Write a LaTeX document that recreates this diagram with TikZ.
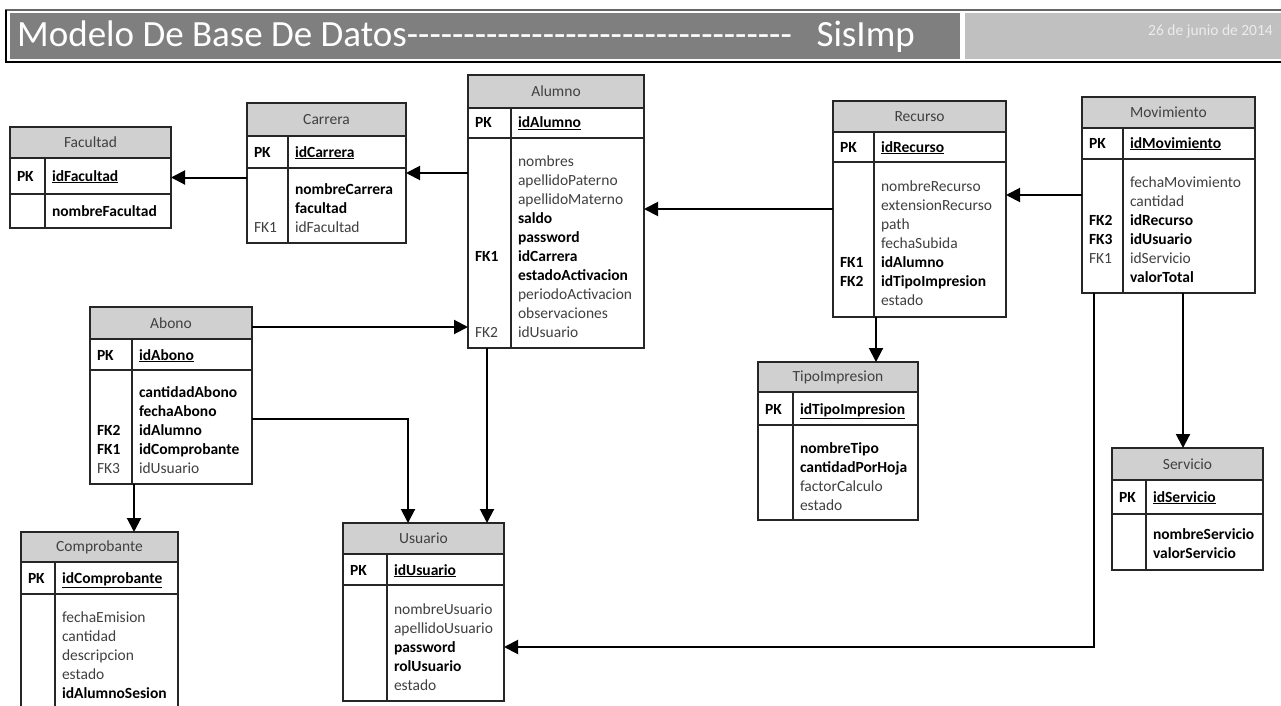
\documentclass[tikz,border=0pt]{standalone}
\usepackage{fontspec}
\setmainfont{Carlito}
\usetikzlibrary{arrows.meta,calc}

\definecolor{bandDark}{RGB}{127,127,127}
\definecolor{bandLight}{RGB}{192,192,192}
\definecolor{headFill}{RGB}{208,208,208}
\definecolor{fieldGray}{RGB}{64,64,64}
\definecolor{dateText}{RGB}{236,236,236}

% bold (mandatory) column
\newcommand\B[1]{{\bfseries\color{black}#1}}
% a run of separate hyphens (no dash ligatures)
\newcommand\hyph{-{}}
\newcommand\hyphten{\hyph\hyph\hyph\hyph\hyph\hyph\hyph\hyph\hyph\hyph}
\newcommand\hyphrun{\hyphten\hyphten\hyphten\hyph\hyph\hyph\hyph}

% #1 name, #2 left, #3 top, #4 right, #5 bottom, #6 divider x, #7 title rule y, #8 key rule y, #9 title
\newcommand\dbtable[9]{%
  \fill[headFill] (#2,#3) rectangle (#4,#7);
  \draw[rule] (#2,#7) -- (#4,#7) (#2,#8) -- (#4,#8) (#6,#7) -- (#6,#5);
  \node[tablebox, anchor=north west, minimum width={#4-#2}, minimum height={#5-#3}] (#1) at (#2,#3) {};
  \node[cell] (#1-title) at ({(#2+#4)/2},{(#3+#7)/2}) {#9};
}
% primary key row: #1 name, #2 left, #3 divider, #4 row centre y, #5 field
\newcommand\dbkey[5]{%
  \node[cell, anchor=base west] (#1-pk) at (#2+7, #4+5) {\B{PK}};
  \node[cell, anchor=base west] (#1-id) at (#3+7, #4+5) {\B{\underline{#5}}};
}
% attribute rows: #1 name, #2 left, #3 divider, #4 first row centre y, #5 key/field list
\newcommand\dbrows[5]{%
  \foreach \keyname/\fieldname [count=\i] in {#5} {
    \node[cell, anchor=base west] (#1-k\i) at (#2+7, {#4+(\i-1)*19+5}) {\keyname};
    \node[cell, anchor=base west] (#1-f\i) at (#3+7, {#4+(\i-1)*19+5}) {\fieldname};
  }
}

\begin{document}
\begin{tikzpicture}[
  x=1pt, y=-1pt,
  tablebox/.style={draw=black!85, line width=1.1pt, inner sep=0pt, outer sep=0pt},
  rule/.style={draw=black!85, line width=1.1pt},
  cell/.style={inner sep=0pt, outer sep=0pt, font=\fontsize{15.5}{19}\selectfont, text=fieldGray},
  fk/.style={draw=black, line width=2pt, -{Triangle[length=14pt,width=14pt]}},
]
\useasboundingbox (0,0) rectangle (1281,706);
\fill[white] (0,0) rectangle (1281,706);

% title banner
\draw[black!60, line width=2pt] (5,10) -- (1281,10);
\draw[black, line width=1.3pt] (6,10) -- (6,62) (5,62) -- (1281,62);
\fill[bandDark] (10,13) rectangle (960,59);
\fill[bandLight] (965,13) rectangle (1281,59);
\node[anchor=base west, inner sep=0pt, text=white, font=\fontsize{37}{37}\selectfont] (title) at (17,47)
  {Modelo De Base De Datos\hyphrun};
\node[anchor=base east, inner sep=0pt, text=white, font=\fontsize{37}{37}\selectfont] (project) at (915,47) {SisImp};
\node[anchor=base east, inner sep=0pt, text=dateText, font=\fontsize{15.5}{15.5}\selectfont] (date) at (1273,35.5) {26 de junio de 2014};

% tables
\dbtable{facultad}{10}{127}{171}{228}{45}{158}{194}{Facultad}
\dbkey{facultad}{10}{45}{176}{idFacultad}
\dbrows{facultad}{10}{45}{211}{/\B{nombreFacultad}}

\dbtable{carrera}{247}{103}{406}{243}{288}{136}{168}{Carrera}
\dbkey{carrera}{247}{288}{152}{idCarrera}
\dbrows{carrera}{247}{288}{189}{/\B{nombreCarrera}, /\B{facultad}, FK1/idFacultad}

\dbtable{alumno}{468}{75}{644}{348}{511}{108}{138}{Alumno}
\dbkey{alumno}{468}{511}{123}{idAlumno}
\dbrows{alumno}{468}{511}{161}{/nombres, /apellidoPaterno, /apellidoMaterno, /\B{saldo}, /\B{password},
  \B{FK1}/\B{idCarrera}, /\B{estadoActivacion}, /periodoActivacion, /observaciones, FK2/idUsuario}

\dbtable{recurso}{833}{101}{1006}{317}{874}{132}{162}{Recurso}
\dbkey{recurso}{833}{874}{147}{idRecurso}
\dbrows{recurso}{833}{874}{186}{/nombreRecurso, /extensionRecurso, /path, /fechaSubida,
  \B{FK1}/\B{idAlumno}, \B{FK2}/\B{idTipoImpresion}, /estado}

\dbtable{movimiento}{1082}{97}{1255}{293}{1123}{128}{159}{Movimiento}
\dbkey{movimiento}{1082}{1123}{143}{idMovimiento}
\dbrows{movimiento}{1082}{1123}{182}{/fechaMovimiento, /cantidad, \B{FK2}/\B{idRecurso},
  \B{FK3}/\B{idUsuario}, FK1/idServicio, /\B{valorTotal}}

\dbtable{abono}{90}{307}{252}{484}{132}{339}{370}{Abono}
\dbkey{abono}{90}{132}{355}{idAbono}
\dbrows{abono}{90}{132}{392}{/\B{cantidadAbono}, /\B{fechaAbono}, \B{FK2}/\B{idAlumno},
  \B{FK1}/\B{idComprobante}, FK3/idUsuario}

\dbtable{comprobante}{21}{532}{178}{730}{55}{562}{594}{Comprobante}
\dbkey{comprobante}{21}{55}{578}{idComprobante}
\dbrows{comprobante}{21}{55}{617}{/fechaEmision, /cantidad, /descripcion, /estado, /\B{idAlumnoSesion}}

\dbtable{usuario}{343}{523}{504}{701}{387}{554}{585}{Usuario}
\dbkey{usuario}{343}{387}{570}{idUsuario}
\dbrows{usuario}{343}{387}{609}{/nombreUsuario, /apellidoUsuario, /\B{password}, /\B{rolUsuario}, /estado}

\dbtable{tipo}{758}{362}{918}{520}{793}{392}{425}{TipoImpresion}
\dbkey{tipo}{758}{793}{409}{idTipoImpresion}
\dbrows{tipo}{758}{793}{448}{/\B{nombreTipo}, /\B{cantidadPorHoja}, /factorCalculo, /estado}

\dbtable{servicio}{1112}{448}{1263}{570}{1146}{480}{514}{Servicio}
\dbkey{servicio}{1112}{1146}{497}{idServicio}
\dbrows{servicio}{1112}{1146}{534}{/\B{nombreServicio}, /\B{valorServicio}}

% foreign key connectors
\draw[fk] (carrera.west |- facultad.east) -- (facultad.east);
\draw[fk] (alumno.west |- carrera.east) -- (carrera.east);
\draw[fk] (recurso.west) -- (alumno.east |- recurso.west);
\draw[fk] (movimiento.west) -- (recurso.east |- movimiento.west);

\coordinate (abAl) at ($(abono.north east)+(0,20)$);
\draw[fk] (abAl) -- (alumno.west |- abAl);
\coordinate (abUs) at ($(abono.north east)+(0,112)$);
\draw[fk] (abUs) -| ($(usuario.north west)+(65,0)$);
\coordinate (alUs) at ($(alumno.south west)+(19,0)$);
\draw[fk] (alUs) -- (alUs |- usuario.north);
\coordinate (abCo) at ($(abono.south west)+(44,0)$);
\draw[fk] (abCo) -- (abCo |- comprobante.north);
\coordinate (reTi) at ($(recurso.south west)+(43,0)$);
\draw[fk] (reTi) -- (reTi |- tipo.north);
\coordinate (moSe) at ($(movimiento.south west)+(101,0)$);
\draw[fk] (moSe) -- (moSe |- servicio.north);
\coordinate (moUs) at ($(movimiento.south west)+(12,0)$);
\draw[fk] (moUs) |- ($(usuario.north east)+(0,124)$);
\end{tikzpicture}
\end{document}
